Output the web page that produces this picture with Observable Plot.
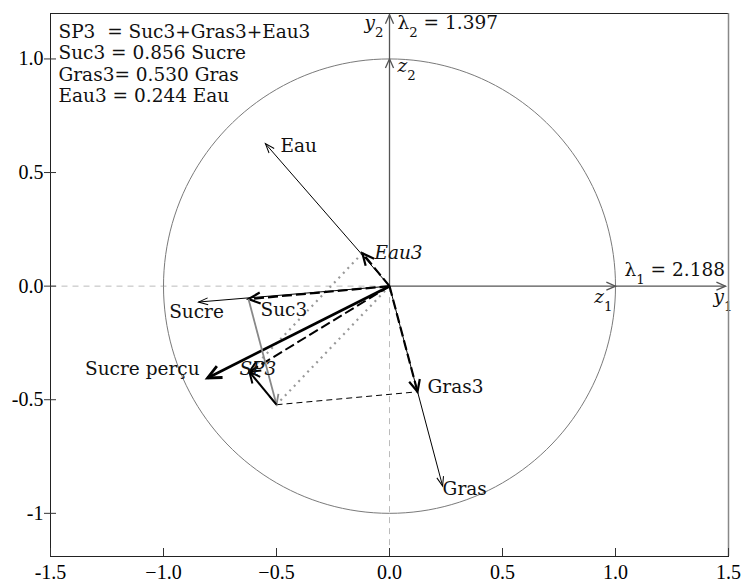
<!DOCTYPE html>
<html><head><meta charset="utf-8">
<script src="https://cdn.jsdelivr.net/npm/d3@7"></script>
<script src="https://cdn.jsdelivr.net/npm/@observablehq/plot@0.6"></script>
<style>body{margin:0;background:#fff} svg{display:block}</style>
</head><body><div id="chart"></div>
<script>
// ---- data ----
const xDomain = [-1.5, 1.5];
const yDomain = [-1.19, 1.2];
const xTicks = [-1.5, -1, -0.5, 0, 0.5, 1, 1.5];
const xTickLabels = ["-1.5", "\u22121.0", "\u22120.5", "0.0", "0.5", "1.0", "1.5"];
const yTicks = [1, 0.5, 0, -0.5, -1];
const yTickLabels = ["1.0", "0.5", "0.0", "-0.5", "-1"];
const infoLines = ["SP3\u00a0\u00a0= Suc3+Gras3+Eau3", "Suc3 = 0.856 Sucre", "Gras3= 0.530 Gras", "Eau3 = 0.244 Eau"];
const varNames = ["Eau", "Sucre", "Gras"];
const varX = [-0.549, -0.845, 0.235];
const varY = [0.627, -0.07, -0.88];
const targetName = "Sucre per\u00e7u";
const targetX = -0.805, targetY = -0.404;
const compNames = ["Suc3", "Gras3", "Eau3"];
const compX = [-0.624, 0.124, -0.12];
const compY = [-0.057, -0.465, 0.145];
const sumName = "SP3";
const eigenLabels = ["\u03bb\u2081 = 2.188", "\u03bb\u2082 = 1.397"];
const axisNames = ["y\u2081", "y\u2082"];
const unitNames = ["z\u2081", "z\u2082"];
const circleRadius = 1;
const axisExtent = [1.487, 1.195];

// ---- derived geometry ----
const O = [0, 0];
const suc3 = [compX[0], compY[0]], gras3 = [compX[1], compY[1]], eau3 = [compX[2], compY[2]];
const sg = [suc3[0] + gras3[0], suc3[1] + gras3[1]];
const sp = [sg[0] + eau3[0], sg[1] + eau3[1]];
const seg = (a, b) => [a[0], a[1], b[0], b[1]];
const circle = d3.range(0, 361, 2).map(a => [circleRadius * Math.cos(a * Math.PI / 180), circleRadius * Math.sin(a * Math.PI / 180)]);

const TXT = {fontFamily: "DejaVu Serif", fontSize: 18.5, fill: "#111"};
const TICKF = {fontFamily: "Liberation Serif", fontSize: 20, fill: "black"};

function links(segs, opts) {
  return Plot.link(segs, {x1: d => d[0], y1: d => d[1], x2: d => d[2], y2: d => d[3], ...opts});
}
function headShape(len, ang) {
  const a = ang * Math.PI / 180;
  return {draw(ctx) {
    ctx.moveTo(-len * Math.sin(a), len * Math.cos(a));
    ctx.lineTo(0, 0);
    ctx.lineTo(len * Math.sin(a), len * Math.cos(a));
  }};
}
function heads(segs, len, ang, opts) {
  return Plot.vector(segs, {
    x: d => d[2], y: d => d[3], length: 1, anchor: "start",
    rotate: d => Math.atan2(d[2] - d[0], d[3] - d[1]) * 180 / Math.PI,
    shape: headShape(len, ang), strokeLinejoin: "miter", strokeLinecap: "butt", ...opts
  });
}
function arrows(segs, len, ang, opts) {
  const {strokeDasharray, ...rest} = opts;
  return [links(segs, opts), heads(segs, len, ang, rest)];
}
function label(text, x, y, dx, dy, anchor, italic, extra = {}) {
  return Plot.text([text], {x: () => x, y: () => y, text: d => d, dx, dy, textAnchor: anchor,
    fontStyle: italic ? "italic" : "normal", ...TXT, ...extra});
}

const varSegs = varX.map((x, i) => seg(O, [x, varY[i]]));
const compSegs = compX.map((x, i) => seg(O, [x, compY[i]]));

const plot = Plot.plot({
  width: 744, height: 583,
  marginTop: 13, marginRight: 16, marginBottom: 27, marginLeft: 50,
  x: {domain: xDomain, axis: null},
  y: {domain: yDomain, axis: null},
  style: {fontFamily: "DejaVu Serif", background: "white"},
  marks: [
    // guides
    links([seg([xDomain[0], 0], O), seg(O, [0, yDomain[0]])], {stroke: "#bbb", strokeWidth: 1, strokeDasharray: "6,5"}),
    Plot.line(circle, {x: d => d[0], y: d => d[1], stroke: "#7a7a7a", strokeWidth: 1}),
    // principal axes
    arrows([seg(O, [axisExtent[0], 0]), seg(O, [0, axisExtent[1]])], 10, 24, {stroke: "#555", strokeWidth: 1.3}),
    heads([seg(O, [circleRadius, 0]), seg(O, [0, circleRadius])], 10, 24, {stroke: "#555", strokeWidth: 1.3}),
    // construction lines
    links([seg(O, sg), seg(eau3, sp)], {stroke: "#999", strokeWidth: 2.2, strokeDasharray: "2,4.5"}),
    links([seg(sg, gras3)], {stroke: "black", strokeWidth: 1, strokeDasharray: "6,4"}),
    // variable vectors
    arrows(varSegs, 10, 20, {stroke: "black", strokeWidth: 1}),
    arrows([seg(O, [targetX, targetY])], 15, 25, {stroke: "black", strokeWidth: 2.8}),
    arrows(compSegs, 13, 25, {stroke: "black", strokeWidth: 2.2, strokeDasharray: "10,4"}),
    arrows([seg(O, sp)], 12, 25, {stroke: "black", strokeWidth: 2, strokeDasharray: "10,4"}),
    arrows([seg(suc3, sg)], 11, 25, {stroke: "#888", strokeWidth: 1.8}),
    arrows([seg(sg, sp)], 12, 25, {stroke: "black", strokeWidth: 2}),
    // labels
    label(varNames[0], varX[0], varY[0], 15, 2, "start", false),
    label(varNames[1], varX[1], varY[1], -2, 10, "middle", false),
    label(varNames[2], varX[2], varY[2], 0, 3, "start", false),
    label(targetName, targetX, targetY, -8, -9, "end", false),
    label(compNames[0], compX[0], compY[0], 12, 11, "start", false),
    label(compNames[1], compX[1], compY[1], 10, -5, "start", false),
    label(compNames[2], compX[2], compY[2], 12, 0, "start", true),
    label(sumName, sp[0], sp[1], -10, -3, "start", true),
    label(eigenLabels[0], circleRadius, 0, 9, -16, "start", false),
    label(eigenLabels[1], 0, axisExtent[1], 8, 8, "start", false),
    label(axisNames[0], axisExtent[0], 0, -12, 11, "start", true),
    label(axisNames[1], 0, axisExtent[1], -6, 8, "end", true),
    label(unitNames[0], circleRadius, 0, -3, 11, "end", true),
    label(unitNames[1], 0, circleRadius, 8, 7, "start", true),
    // info block
    Plot.text([infoLines.join("\n")], {frameAnchor: "top-left", text: d => d, dx: 8, dy: 9, lineHeight: 1.16, ...TXT}),
    // axes and frame
    Plot.frame({stroke: "#222", strokeWidth: 1}),
    Plot.ruleX([xDomain[1]], {stroke: "#888", strokeWidth: 1.5}),
    Plot.axisX(xTicks, {anchor: "bottom", tickSize: 8, dy: -8, tickFormat: () => "", stroke: "#333"}),
    Plot.axisX(xTicks, {anchor: "bottom", tickSize: 0, tickPadding: 8, tickFormat: d => xTickLabels[xTicks.indexOf(d)], ...TICKF}),
    Plot.axisY(yTicks, {anchor: "left", tickSize: 12, dx: 6, tickFormat: () => "", stroke: "#333"}),
    Plot.axisY(yTicks, {anchor: "left", tickSize: 0, tickPadding: 7, tickFormat: d => yTickLabels[yTicks.indexOf(d)], ...TICKF})
  ]
});

// render Unicode subscripts as real subscript tspans
const subMap = {"\u2081": "1", "\u2082": "2"};
plot.querySelectorAll("text").forEach(t => {
  const s = t.textContent;
  if (!/[\u2081\u2082]/.test(s) || t.children.length) return;
  t.textContent = "";
  for (const part of s.split(/([\u2081\u2082])/)) {
    if (!part) continue;
    const ts = document.createElementNS("http://www.w3.org/2000/svg", "tspan");
    if (subMap[part]) {
      ts.textContent = subMap[part];
      ts.setAttribute("baseline-shift", "sub");
      ts.setAttribute("font-size", "0.72em");
      ts.setAttribute("font-style", "normal");
    } else ts.textContent = part;
    t.appendChild(ts);
  }
});
document.getElementById("chart").appendChild(plot);
</script>
</body></html>
